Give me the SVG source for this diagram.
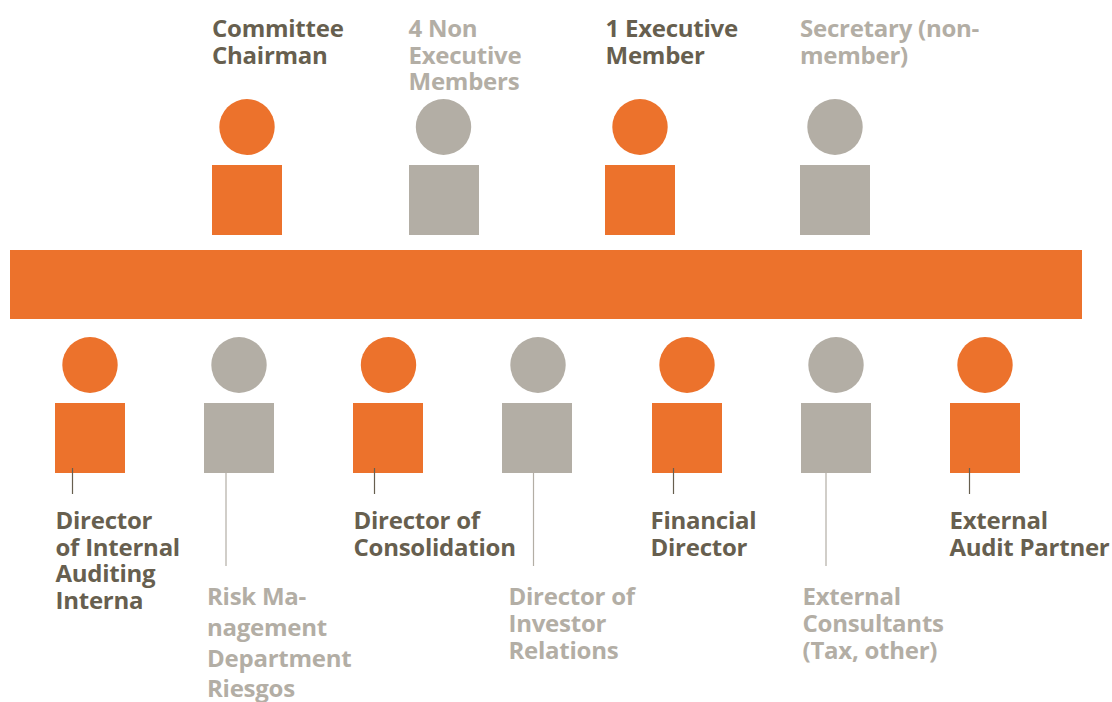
<svg xmlns="http://www.w3.org/2000/svg" width="1112" height="702" viewBox="0 0 1112 702">
<style>
.o{fill:#ec722c}.g{fill:#b3aea5}
text{font-family:"Open Sans","Noto Sans","Liberation Sans",sans-serif;font-size:24px;font-weight:700;letter-spacing:-0.25px}
.td{fill:#675f4f}.tg{fill:#b3aea5}
.ld{stroke:#675f4f;stroke-width:1.2}.lg{stroke:#b3aea5;stroke-width:1.2}
</style>
<rect id="bar" class="o" x="10" y="250" width="1072" height="69"/>
<g id="m1"><ellipse class="o" cx="247" cy="127" rx="27.7" ry="28"/><rect class="o" x="212" y="165" width="70" height="70"/><text class="td" x="212" y="37">Committee</text><text class="td" x="212" y="64">Chairman</text></g>
<g id="m2"><ellipse class="g" cx="443.5" cy="127" rx="27.7" ry="28"/><rect class="g" x="409" y="165" width="70" height="70"/><text class="tg" x="408.500" y="37">4 Non</text><text class="tg" x="408.500" y="64">Executive</text><text class="tg" x="408.500" y="90">Members</text></g>
<g id="m3"><ellipse class="o" cx="640" cy="127" rx="27.7" ry="28"/><rect class="o" x="605" y="165" width="70" height="70"/><text class="td" x="605.500" y="37">1 Executive</text><text class="td" x="605.500" y="64">Member</text></g>
<g id="m4"><ellipse class="g" cx="835" cy="127" rx="27.7" ry="28"/><rect class="g" x="800" y="165" width="70" height="70"/><text class="tg" x="800" y="37">Secretary (non-</text><text class="tg" x="800" y="64">member)</text></g>
<g id="a1"><ellipse class="o" cx="90" cy="365" rx="27.7" ry="28"/><rect class="o" x="55" y="403" width="70" height="70"/><text class="td" x="55.500" y="529">Director</text><text class="td" x="55.500" y="556">of Internal</text><text class="td" x="55.500" y="582">Auditing</text><text class="td" x="55.500" y="609">Interna</text></g>
<g id="a2"><ellipse class="g" cx="239" cy="365" rx="27.7" ry="28"/><rect class="g" x="204" y="403" width="70" height="70"/><text class="tg" x="207" y="605">Risk Ma-</text><text class="tg" x="207" y="636">nagement</text><text class="tg" x="207" y="667">Department</text><text class="tg" x="207" y="697">Riesgos</text></g>
<g id="a3"><ellipse class="o" cx="388.5" cy="365" rx="27.7" ry="28"/><rect class="o" x="353" y="403" width="70" height="70"/><text class="td" x="353.500" y="529">Director of</text><text class="td" x="353.500" y="556">Consolidation</text></g>
<g id="a4"><ellipse class="g" cx="538" cy="365" rx="27.7" ry="28"/><rect class="g" x="502" y="403" width="70" height="70"/><text class="tg" x="508.500" y="605">Director of</text><text class="tg" x="508.500" y="632">Investor</text><text class="tg" x="508.500" y="659">Relations</text></g>
<g id="a5"><ellipse class="o" cx="687" cy="365" rx="27.7" ry="28"/><rect class="o" x="652" y="403" width="70" height="70"/><text class="td" x="650.500" y="529">Financial</text><text class="td" x="650.500" y="556">Director</text></g>
<g id="a6"><ellipse class="g" cx="836" cy="365" rx="27.7" ry="28"/><rect class="g" x="801" y="403" width="70" height="70"/><text class="tg" x="802.500" y="605">External</text><text class="tg" x="802.500" y="632">Consultants</text><text class="tg" x="802.500" y="659">(Tax, other)</text></g>
<g id="a7"><ellipse class="o" cx="985" cy="365" rx="27.7" ry="28"/><rect class="o" x="950" y="403" width="70" height="70"/><text class="td" x="949.500" y="529">External</text><text class="td" x="949.500" y="556">Audit Partner</text></g>
<g id="connectors">
<line class="ld" x1="72.500" y1="468" x2="72.500" y2="494"/>
<line class="lg" x1="226" y1="473" x2="226" y2="566"/>
<line class="ld" x1="374.500" y1="468" x2="374.500" y2="494"/>
<line class="lg" x1="533.500" y1="473" x2="533.500" y2="566"/>
<line class="ld" x1="673.500" y1="468" x2="673.500" y2="494"/>
<line class="lg" x1="826" y1="473" x2="826" y2="566"/>
<line class="ld" x1="969.500" y1="468" x2="969.500" y2="494"/>
</g>
</svg>
